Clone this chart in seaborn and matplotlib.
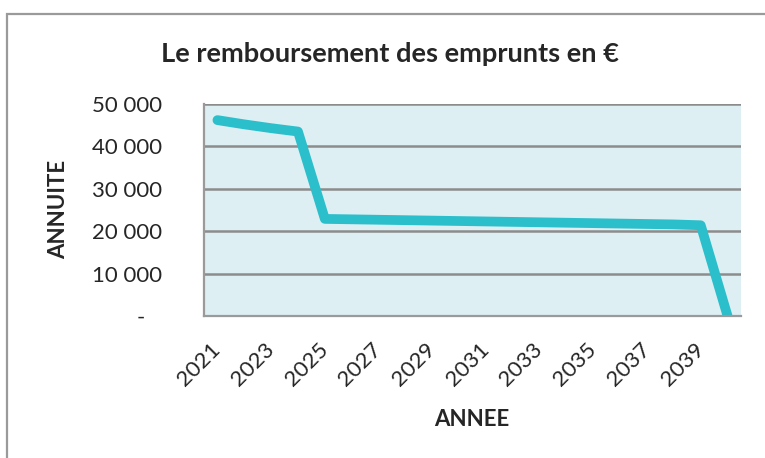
import numpy as np
import pandas as pd
import matplotlib.pyplot as plt
import matplotlib.ticker as mticker
from matplotlib.patches import Rectangle
import seaborn as sns

# Data
years = list(range(2021, 2041))
annuites = [46200, 45200, 44300, 43500, 22900, 22800, 22700, 22600, 22500, 22400,
            22300, 22200, 22100, 22000, 21900, 21800, 21700, 21600, 21400, 0]
year_labels = [str(y) for y in range(2021, 2040, 2)]

df = pd.DataFrame({"ANNEE": years, "ANNUITE": annuites})

W, H = 765, 458

sns.set_style("white")
plt.rcParams['font.family'] = ['Lato', 'DejaVu Sans']

fig = plt.figure(figsize=(W / 100, H / 100), dpi=100)
# outer chart frame (Excel style), cut off on the right and bottom
fig.patches.append(Rectangle((7 / W, -0.1), 1.0, 1 - 14 / H + 0.1,
                             transform=fig.transFigure, fill=False,
                             edgecolor='#9a9a9a', linewidth=1.6))

ax = fig.add_axes([204 / W, 1 - 316 / H, (741 - 204) / W, (316 - 104) / H])
ax.set_facecolor('#ddeff3')

sns.lineplot(data=df, x="ANNEE", y="ANNUITE", ax=ax, color='#2bbfcb',
             linewidth=7, solid_capstyle='round', solid_joinstyle='round')

ax.set_xlim(2020.5, 2040.5)
ax.set_ylim(0, 50000)

# y axis
ax.yaxis.set_major_locator(mticker.MultipleLocator(10000))
ax.yaxis.set_major_formatter(mticker.FuncFormatter(
    lambda v, p: '-   ' if v == 0 else f"{int(v):,}".replace(',', ' ')))
ax.grid(axis='y', color='#8c8c8c', linewidth=1.8)
ax.set_axisbelow(True)

# x axis: ticks between categories, labels every other year
ax.xaxis.set_major_locator(mticker.FixedLocator(np.arange(2020.5, 2041, 1)))
ax.xaxis.set_major_formatter(mticker.NullFormatter())
ax.xaxis.set_minor_locator(mticker.FixedLocator([int(y) for y in year_labels]))
ax.xaxis.set_minor_formatter(mticker.FixedFormatter(year_labels))
ax.tick_params(axis='x', which='major', length=6, width=1.6, color='#9a9a9a', direction='out')
ax.tick_params(axis='x', which='minor', length=0, labelsize=16, pad=22)
ax.tick_params(axis='y', length=6, width=1.6, color='#9a9a9a', direction='out',
               labelsize=16, pad=24)
plt.setp(ax.xaxis.get_minorticklabels(), rotation=45, ha='right', va='center',
         rotation_mode='anchor')

for s in ['top', 'right']:
    ax.spines[s].set_visible(False)
for s in ['left', 'bottom']:
    ax.spines[s].set_color('#9a9a9a')
    ax.spines[s].set_linewidth(1.6)

ax.set_xlabel("")
ax.set_ylabel("")
fig.text(472 / W, 1 - 420 / H, "ANNEE", ha='center', va='center',
         fontsize=16, fontweight='bold')
fig.text(59 / W, 1 - 209 / H, "ANNUITE", ha='center', va='center',
         rotation=90, fontsize=16, fontweight='bold')

fig.text(390 / W, 1 - 62 / H, "Le remboursement des emprunts en €",
         ha='center', va='baseline', fontsize=19.6, fontweight='bold')

fig.savefig("out.png", dpi=100)
